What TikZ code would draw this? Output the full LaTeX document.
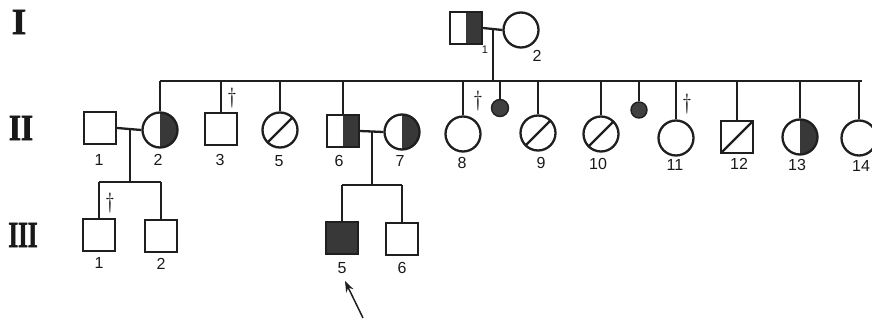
\documentclass[tikz,border=0pt]{standalone}
\usepackage{fontspec}
\newfontfamily\lblfont{Liberation Sans}
\newfontfamily\genfont[FakeBold=2]{Liberation Serif}
\usetikzlibrary{arrows.meta}
\tikzset{
  x=1pt,y=-1pt,
  ln/.style={line width=2.3pt,black!88},
  sqr/.style={draw=black!88,line width=2.3pt,rectangle,minimum size=32pt,inner sep=0pt},
  circ/.style={draw=black!88,line width=2.3pt,circle,minimum size=35pt,inner sep=0pt},
  dotc/.style={draw=black!88,fill=black!75,line width=1.4pt,circle,minimum size=17pt,inner sep=0pt},
  halfR/.style={path picture={\fill[black!78] (path picture bounding box.north) rectangle (path picture bounding box.south east);}},
  fullF/.style={fill=black!78},
  slashed/.style={path picture={\draw[line width=2.3pt,black!88] (path picture bounding box.south west) -- (path picture bounding box.north east);}},
  lbl/.style={font=\lblfont\fontsize{16}{16}\selectfont,inner sep=0pt,text=black!90},
  gen/.style={font=\genfont\bfseries\fontsize{37}{37}\selectfont,inner sep=0pt,text=black!90},
  dg/.style={font=\fontsize{22}{22}\selectfont,inner sep=0pt,text=black!90}
}
\begin{document}
\begin{tikzpicture}
\useasboundingbox (0,0) rectangle (872,320);
% generation labels
\node[gen] (gI) at (19,22) {\scalebox{1}[1]{I}};
\node[gen] (gII) at (21,128) {\scalebox{0.85}[1]{II}};
\node[gen] (gIII) at (23,235) {\scalebox{0.68}[1]{III}};
% generation I
\node[sqr,halfR] (I1) at (466,28) {};
\node[circ] (I2) at (521,30) {};
\node[lbl,font=\lblfont\fontsize{11}{11}\selectfont] (lI1) at (485,50) {1};
\node[lbl] (lI2) at (537,56) {2};
\draw[ln] (I1.east) -- (I2.west);
\coordinate (cI) at (493,30);
\coordinate (sibL) at (160,81);
\coordinate (sibR) at (862,81);
\draw[ln] (cI) -- (cI |- sibL);
\draw[ln] (sibL) -- (sibR);
% generation II
\node[sqr] (II1) at (100,128) {};
\node[circ,halfR] (II2) at (160,130) {};
\node[sqr] (II3) at (221,129) {};
\node[circ,slashed] (II5) at (280,130) {};
\node[sqr,halfR] (II6) at (343,131) {};
\node[circ,halfR] (II7) at (402,132) {};
\node[circ] (II8) at (463,134) {};
\node[dotc] (d1) at (500,108) {};
\node[circ,slashed] (II9) at (538,133) {};
\node[circ,slashed] (II10) at (601,134) {};
\node[dotc,minimum size=16pt] (d2) at (639,110) {};
\node[circ] (II11) at (676,138) {};
\node[sqr,slashed] (II12) at (737,137) {};
\node[circ,halfR] (II13) at (800,137) {};
\node[circ] (II14) at (859,138) {};
\foreach \n in {II2,II3,II5,II6,II8,d1,II9,II10,d2,II11,II12,II13,II14}
  \draw[ln] (\n.north) -- (\n.north |- sibL);
% labels II
\node[lbl] (l1) at (99,160) {1};
\node[lbl] (l2) at (158,160) {2};
\node[lbl] (l3) at (220,160) {3};
\node[lbl] (l5) at (279,161) {5};
\node[lbl] (l6) at (339,161) {6};
\node[lbl] (l7) at (400,161) {7};
\node[lbl] (l8) at (462,163) {8};
\node[lbl] (l9) at (541,163) {9};
\node[lbl] (l10) at (598,164) {10};
\node[lbl] (l11) at (675,165) {11};
\node[lbl] (l12) at (739,164) {12};
\node[lbl] (l13) at (797,165) {13};
\node[lbl] (l14) at (861,166) {14};
% daggers
\node[dg] (dg3) at (232,98) {\textdagger};
\node[dg] (dg8) at (478,101) {\textdagger};
\node[dg] (dg11) at (687,104) {\textdagger};
\node[dg] (dgIII1) at (110,203) {\textdagger};
% couples II
\draw[ln] (II1.east) -- (II2.west);
\coordinate (c12) at (130,129);
\coordinate (s12) at (99,182);
\coordinate (s12r) at (161,182);
\draw[ln] (c12) -- (c12 |- s12);
\draw[ln] (s12) -- (s12r);
\draw[ln] (II6.east) -- (II7.west);
\coordinate (c67) at (372,132);
\coordinate (s67) at (342,185);
\coordinate (s67r) at (402,185);
\draw[ln] (c67) -- (c67 |- s67);
\draw[ln] (s67) -- (s67r);
% generation III
\node[sqr] (III1) at (99,235) {};
\node[sqr] (III2) at (161,236) {};
\node[sqr,fullF] (III5) at (342,238) {};
\node[sqr] (III6) at (402,239) {};
\draw[ln] (III1.north) -- (III1.north |- s12);
\draw[ln] (III2.north) -- (III2.north |- s12);
\draw[ln] (III5.north) -- (III5.north |- s67);
\draw[ln] (III6.north) -- (III6.north |- s67);
\node[lbl] (m1) at (99,263) {1};
\node[lbl] (m2) at (161,264) {2};
\node[lbl] (m5) at (342,268) {5};
\node[lbl] (m6) at (402,268) {6};
% proband arrow
\coordinate (arS) at (363,318);
\coordinate (arT) at (345,281);
\draw[line width=1.5pt,black!88,-{Stealth[length=11pt,width=8pt]}] (arS) -- (arT);
\end{tikzpicture}
\end{document}
